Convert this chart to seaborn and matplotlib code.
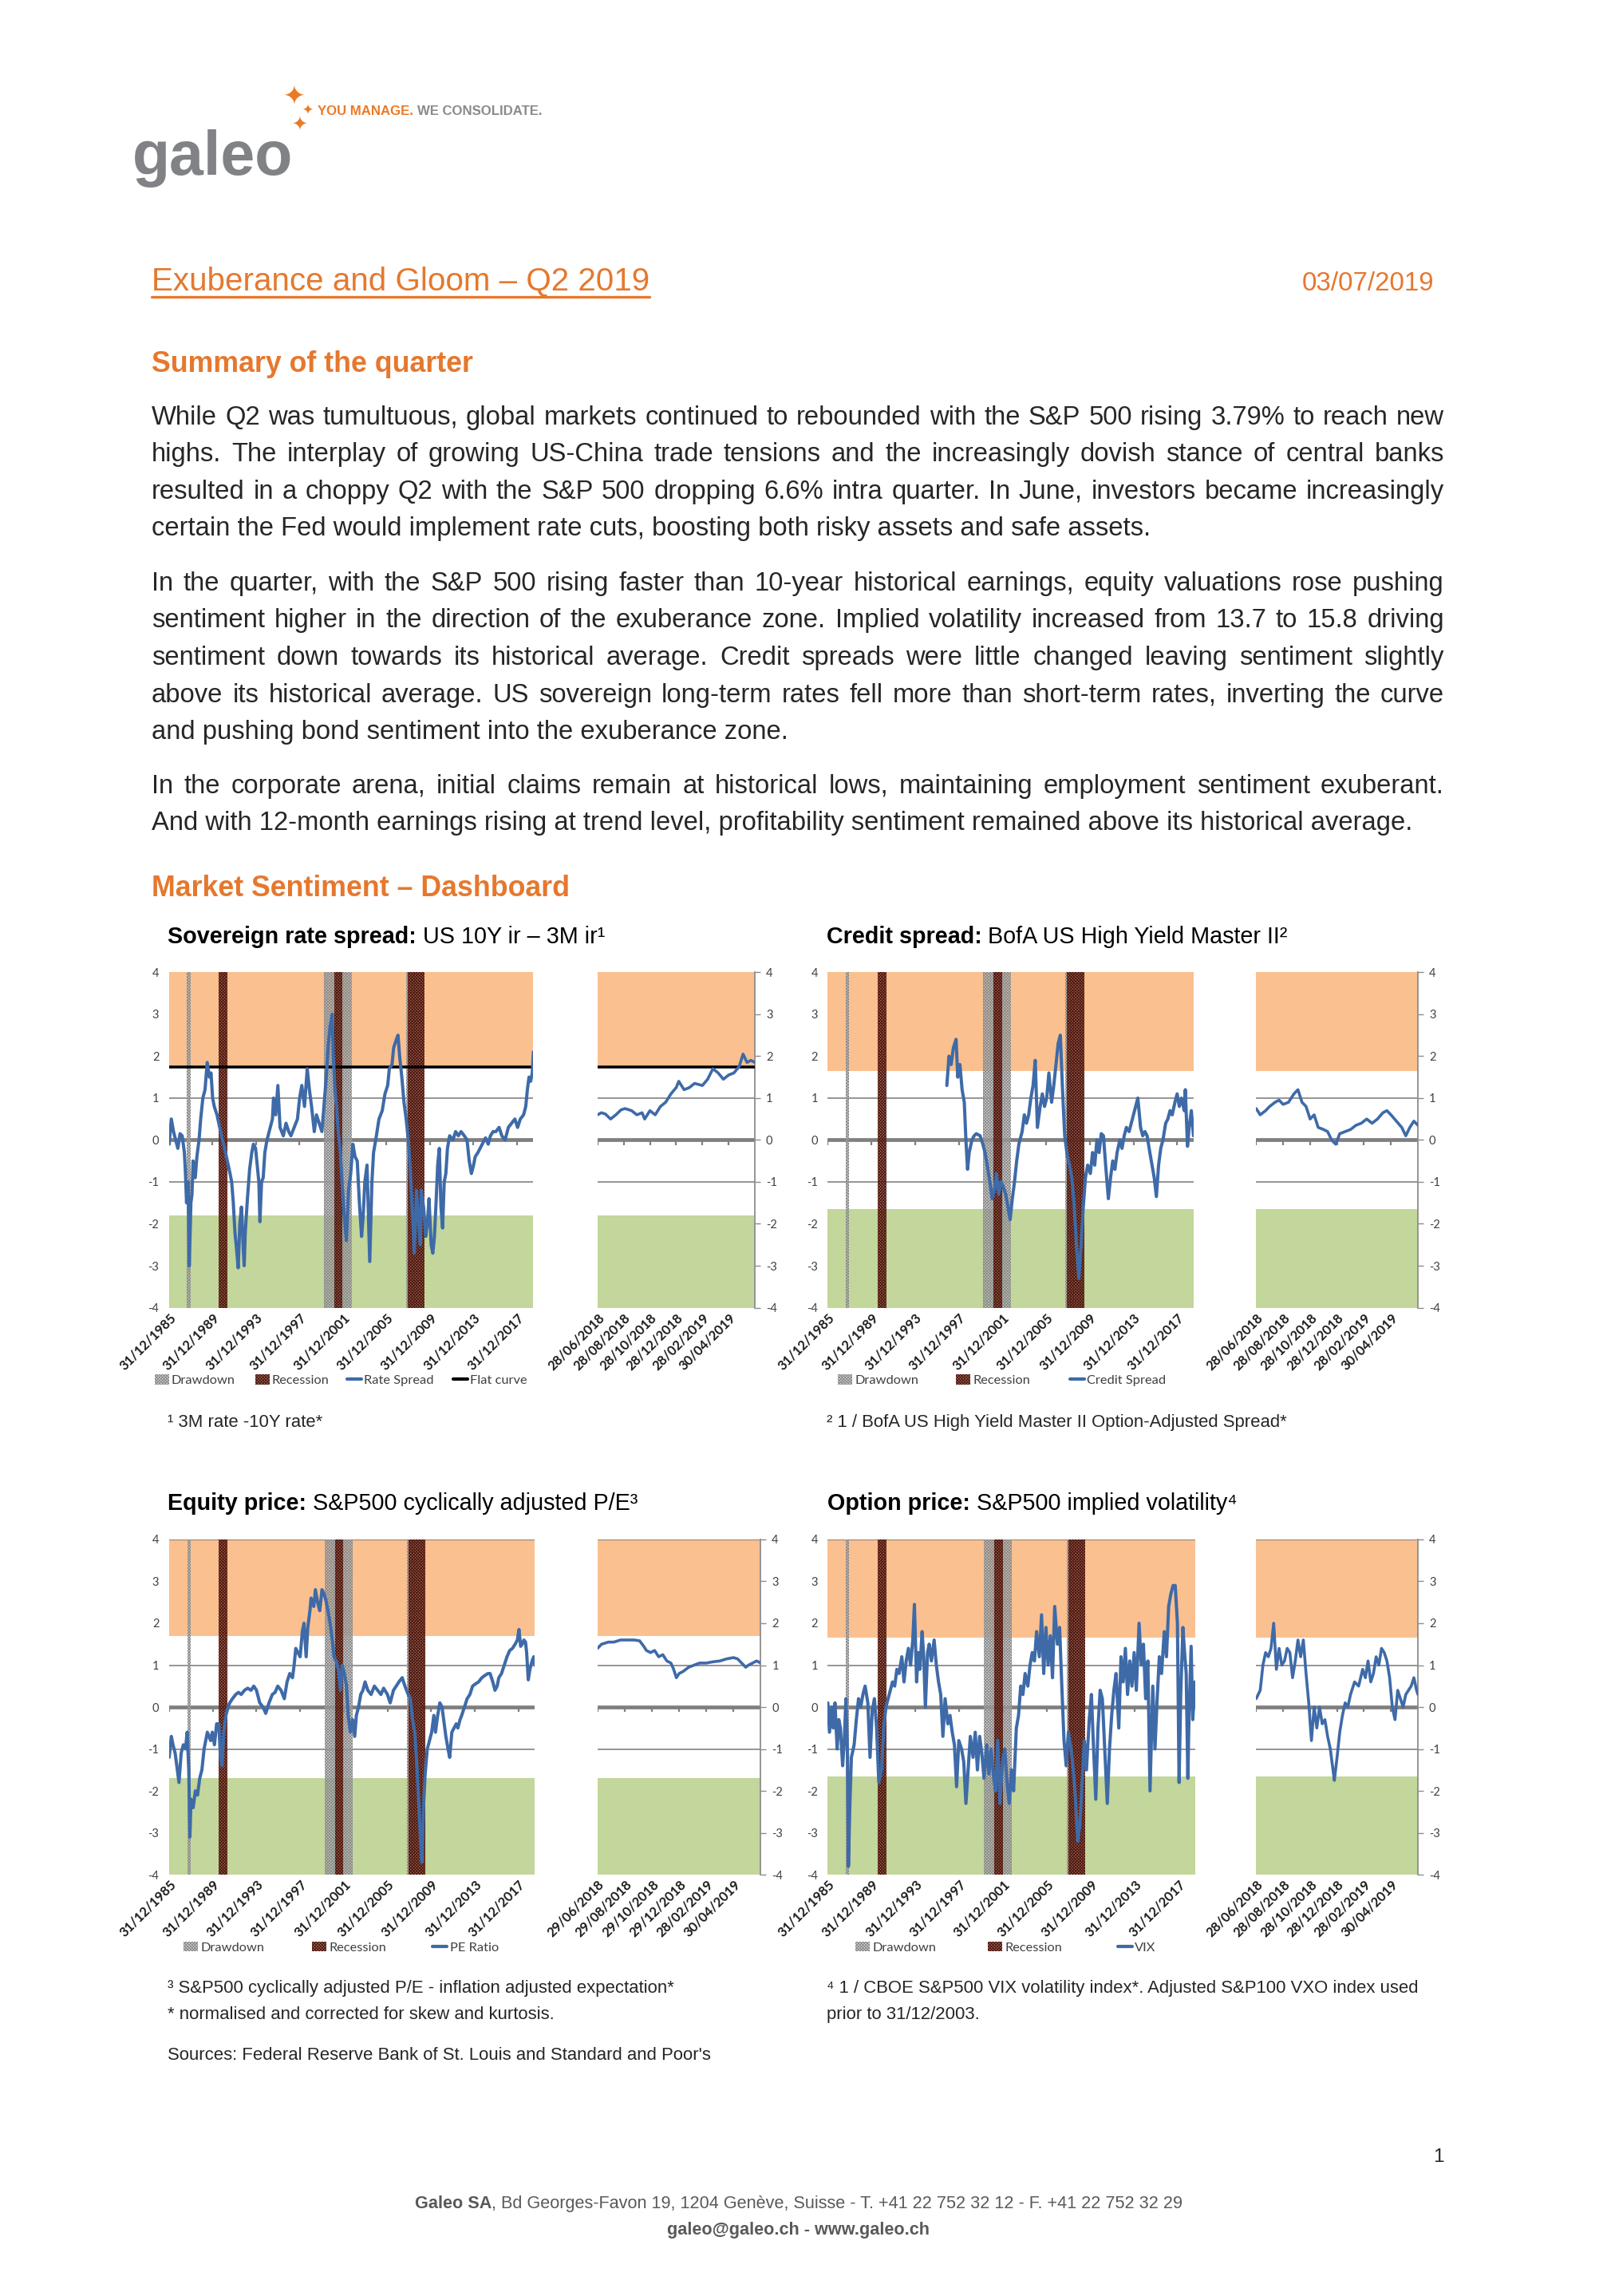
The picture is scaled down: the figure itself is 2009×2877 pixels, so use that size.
import matplotlib
matplotlib.use('Agg')
import matplotlib.pyplot as plt
from matplotlib import font_manager
from matplotlib.patches import Patch
from matplotlib.lines import Line2D
import seaborn as sns

# ---------------- data ----------------
SOV_YEARS = [1986.0, 1986.2, 1986.4, 1986.6, 1986.8, 1987.0, 1987.2, 1987.4, 1987.5, 1987.6,
             1987.75, 1987.85, 1988.0, 1988.1, 1988.2, 1988.4, 1988.55, 1988.75, 1988.9, 1989.1,
             1989.3, 1989.5, 1989.7, 1989.85, 1990.0, 1990.15, 1990.4, 1990.65, 1990.9, 1991.1,
             1991.35, 1991.6, 1991.75, 1991.9, 1992.05, 1992.2, 1992.35, 1992.5, 1992.65, 1992.8,
             1992.9, 1993.0, 1993.2, 1993.4, 1993.6, 1993.75, 1993.95, 1994.1, 1994.25, 1994.35,
             1994.5, 1994.65, 1994.8, 1995.0, 1995.2, 1995.5, 1995.6, 1995.8, 1996.0, 1996.2,
             1996.5, 1996.75, 1997.0, 1997.2, 1997.5, 1997.8, 1998.0, 1998.2, 1998.45, 1998.7,
             1998.9, 1999.1, 1999.35, 1999.55, 1999.8, 2000.05, 2000.3, 2000.45, 2000.65, 2000.8,
             2001.0, 2001.1, 2001.25, 2001.4, 2001.55, 2001.75, 2001.9, 2002.1, 2002.3, 2002.5,
             2002.7, 2002.9, 2003.1, 2003.3, 2003.5, 2003.7, 2003.85, 2004.0, 2004.2, 2004.35,
             2004.45, 2004.65, 2004.8, 2005.0, 2005.3, 2005.6, 2005.85, 2006.1, 2006.25, 2006.5,
             2006.65, 2006.9, 2007.05, 2007.2, 2007.4, 2007.6, 2007.8, 2008.0, 2008.2, 2008.35,
             2008.55, 2008.75, 2008.9, 2009.1, 2009.2, 2009.4, 2009.6, 2009.75, 2009.9, 2010.1,
             2010.25, 2010.4, 2010.55, 2010.7, 2010.85, 2011.0, 2011.15, 2011.3, 2011.45, 2011.6,
             2011.8, 2012.1, 2012.35, 2012.6, 2012.85, 2013.15, 2013.4, 2013.6, 2013.8, 2014.0,
             2014.15, 2014.4, 2014.6, 2014.8, 2015.1, 2015.35, 2015.55, 2015.8, 2016.05, 2016.35,
             2016.6, 2016.9, 2017.2, 2017.5, 2017.8, 2018.05, 2018.3, 2018.6, 2018.8, 2018.95,
             2019.1, 2019.25, 2019.4, 2019.5]
SOV_VALUES = [-0.1, 0.5, 0.2, 0.0, -0.2, 0.15, 0.1, -0.3, -0.8, -1.5,
              -1.0, -3.0, -1.5, -1.3, -0.5, -0.9, -0.4, 0.0, 0.5, 1.0,
              1.2, 1.85, 1.5, 1.6, 1.0, 0.8, 0.6, 0.3, 0.0, -0.2,
              -0.5, -0.8, -1.0, -1.5, -2.2, -2.6, -3.05, -2.0, -1.6, -2.5,
              -3.0, -2.2, -1.4, -0.7, -0.3, -0.1, -0.2, -0.6, -1.0, -1.95,
              -1.0, -0.9, -0.3, 0.0, 0.2, 0.5, 1.0, 0.6, 1.3, 0.3,
              0.1, 0.4, 0.2, 0.1, 0.3, 0.5, 1.0, 1.3, 0.8, 1.7,
              1.2, 0.8, 0.2, 0.6, 0.4, 0.2, 1.0, 1.5, 2.3, 2.7,
              3.0, 2.0, 1.2, 0.8, 0.2, -0.3, -1.0, -1.8, -2.4, -1.2,
              -0.8, -0.1, -0.4, -0.5, -1.5, -2.3, -1.8, -1.0, -0.6, -2.0,
              -2.9, -1.0, -0.3, 0.0, 0.5, 0.7, 1.1, 1.3, 1.7, 1.8,
              2.2, 2.4, 2.5, 2.0, 1.5, 0.9, 0.5, 0.0, -0.8, -1.6,
              -2.7, -1.2, -1.8, -2.5, -1.2, -1.6, -2.3, -2.0, -1.4, -2.5,
              -2.7, -2.3, -1.5, -0.6, -0.2, -1.6, -2.1, -1.0, -0.8, -0.2,
              0.1, 0.0, 0.2, 0.1, 0.2, 0.1, 0.0, -0.5, -0.8, -0.6,
              -0.4, -0.3, -0.2, -0.1, 0.05, -0.1, 0.1, 0.2, 0.2, 0.3,
              0.1, 0.0, 0.3, 0.4, 0.5, 0.3, 0.5, 0.6, 0.8, 1.2,
              1.5, 1.4, 1.6, 2.1]
SOV_MONTHS = [0, 0.3, 0.6, 1.0, 1.4, 1.8, 2.1, 2.6, 3.0, 3.4, 3.6, 4.0, 4.4, 4.8, 5.2, 5.6, 6.0,
              6.2, 6.6, 7.0, 7.4, 8.0, 8.4, 8.8, 9.2, 9.6, 10.0, 10.4, 10.8, 11.1, 11.4, 11.7, 12.0]
SOV_RECENT = [0.6, 0.65, 0.62, 0.5, 0.6, 0.72, 0.75, 0.7, 0.6, 0.65, 0.5, 0.7, 0.6, 0.8, 0.9, 1.1, 1.25,
              1.4, 1.2, 1.25, 1.35, 1.3, 1.45, 1.7, 1.6, 1.45, 1.55, 1.6, 1.75, 2.05, 1.85, 1.9, 1.85]
FLAT_CURVE = 1.75

CRD_YEARS = [1996.9, 1997.1, 1997.3, 1997.5, 1997.75, 1997.9, 1998.1, 1998.3, 1998.5, 1998.65,
             1998.8, 1998.95, 1999.2, 1999.4, 1999.6, 1999.95, 2000.2, 2000.4, 2000.6, 2000.85,
             2001.05, 2001.25, 2001.45, 2001.65, 2001.85, 2002.05, 2002.3, 2002.5, 2002.7, 2002.9,
             2003.1, 2003.3, 2003.5, 2003.8, 2004.0, 2004.2, 2004.4, 2004.6, 2004.8, 2005.0,
             2005.2, 2005.45, 2005.65, 2005.85, 2006.05, 2006.25, 2006.5, 2006.7, 2006.9, 2007.1,
             2007.3, 2007.5, 2007.7, 2007.95, 2008.15, 2008.35, 2008.55, 2008.8, 2009.0, 2009.2,
             2009.4, 2009.6, 2009.8, 2010.05, 2010.25, 2010.45, 2010.65, 2010.85, 2011.05, 2011.25,
             2011.45, 2011.7, 2011.9, 2012.1, 2012.3, 2012.5, 2012.75, 2012.95, 2013.15, 2013.35,
             2013.6, 2013.8, 2014.0, 2014.2, 2014.4, 2014.65, 2014.85, 2015.05, 2015.25, 2015.5,
             2015.7, 2015.9, 2016.1, 2016.3, 2016.5, 2016.7, 2016.95, 2017.15, 2017.35, 2017.55,
             2017.8, 2018.0, 2018.2, 2018.4, 2018.65, 2018.75, 2018.95, 2019.1, 2019.3, 2019.5]
CRD_VALUES = [1.3, 2.0, 1.8, 2.2, 2.4, 1.5, 1.8, 1.2, 0.9, 0.0,
              -0.7, -0.3, 0.0, 0.1, 0.15, 0.1, -0.1, -0.3, -0.6, -1.0,
              -1.4, -1.2, -0.8, -1.3, -1.0, -1.1, -1.3, -1.6, -1.9, -1.4,
              -1.0, -0.5, -0.1, 0.2, 0.6, 0.4, 0.6, 1.0, 1.3, 1.9,
              0.3, 0.8, 1.1, 0.8, 1.0, 1.6, 0.9, 1.3, 1.8, 2.3,
              2.5, 1.2, 0.1, -0.4, -0.6, -0.9, -1.5, -2.6, -3.3, -2.5,
              -1.6, -0.9, -0.6, -0.8, -0.3, -0.6, 0.0, -0.3, 0.15, 0.1,
              -0.6, -1.4, -0.9, -0.5, -0.7, -0.3, 0.0, -0.2, 0.1, 0.3,
              0.2, 0.4, 0.6, 0.8, 1.0, 0.3, 0.1, 0.2, 0.1, -0.3,
              -0.6, -0.9, -1.35, -0.6, -0.2, 0.0, 0.4, 0.5, 0.7, 0.6,
              0.9, 1.1, 0.8, 1.0, 0.7, 1.2, -0.15, 0.3, 0.7, 0.1]
CRD_MONTHS = [0, 0.3, 0.7, 1.0, 1.4, 1.7, 2.0, 2.4, 2.8, 3.1, 3.4, 3.7, 4.0, 4.3, 4.6, 5.0, 5.3, 5.6,
              5.9, 6.2, 6.6, 7.0, 7.4, 7.8, 8.2, 8.6, 9.0, 9.4, 9.7, 10.0, 10.4, 10.8, 11.1, 11.4, 11.7, 12.0]
CRD_RECENT = [0.75, 0.6, 0.7, 0.8, 0.9, 0.95, 0.85, 0.9, 1.1, 1.2, 0.9, 0.8, 0.5, 0.6, 0.3, 0.25, 0.2, 0.0,
              -0.1, 0.15, 0.2, 0.25, 0.35, 0.4, 0.5, 0.4, 0.5, 0.65, 0.7, 0.6, 0.45, 0.3, 0.1, 0.3, 0.45, 0.35]

PE_YEARS = [1986.0, 1986.2, 1986.35, 1986.55, 1986.75, 1986.9, 1987.1, 1987.3, 1987.5, 1987.65,
            1987.8, 1987.9, 1988.0, 1988.2, 1988.4, 1988.6, 1988.8, 1989.0, 1989.2, 1989.5,
            1989.8, 1989.95, 1990.15, 1990.35, 1990.55, 1990.7, 1990.85, 1991.0, 1991.2, 1991.4,
            1991.55, 1991.8, 1992.1, 1992.35, 1992.6, 1992.9, 1993.2, 1993.5, 1993.75, 1994.0,
            1994.3, 1994.6, 1994.85, 1995.15, 1995.45, 1995.7, 1995.95, 1996.25, 1996.55, 1996.8,
            1997.05, 1997.3, 1997.45, 1997.6, 1997.8, 1998.0, 1998.2, 1998.35, 1998.55, 1998.7,
            1998.9, 1999.0, 1999.25, 1999.4, 1999.6, 1999.8, 2000.0, 2000.2, 2000.4, 2000.55,
            2000.75, 2000.95, 2001.1, 2001.3, 2001.5, 2001.7, 2001.85, 2002.05, 2002.25, 2002.4,
            2002.6, 2002.8, 2003.0, 2003.15, 2003.35, 2003.55, 2003.75, 2003.95, 2004.2, 2004.5,
            2004.8, 2005.1, 2005.4, 2005.65, 2006.0, 2006.25, 2006.55, 2006.8, 2007.05, 2007.35,
            2007.6, 2007.9, 2008.1, 2008.3, 2008.5, 2008.65, 2008.85, 2009.0, 2009.15, 2009.3,
            2009.45, 2009.65, 2009.85, 2010.05, 2010.25, 2010.4, 2010.6, 2010.8, 2011.0, 2011.15,
            2011.35, 2011.55, 2011.7, 2011.9, 2012.1, 2012.3, 2012.45, 2012.65, 2012.8, 2013.05,
            2013.3, 2013.55, 2013.8, 2014.05, 2014.35, 2014.65, 2014.9, 2015.2, 2015.4, 2015.65,
            2015.85, 2016.05, 2016.2, 2016.45, 2016.7, 2016.95, 2017.2, 2017.45, 2017.7, 2017.9,
            2018.05, 2018.2, 2018.35, 2018.5, 2018.65, 2018.75, 2018.9, 2019.05, 2019.25, 2019.4,
            2019.5]
PE_VALUES = [-1.2, -0.7, -0.9, -1.1, -1.5, -1.8, -1.1, -0.9, -1.0, -0.6,
             -1.5, -3.1, -2.2, -2.4, -2.0, -2.1, -1.7, -1.5, -1.0, -0.6,
             -0.8, -0.6, -0.9, -0.4, -0.4, -1.2, -1.4, -0.6, -0.2, 0.0,
             0.1, 0.2, 0.3, 0.35, 0.3, 0.4, 0.45, 0.4, 0.5, 0.4,
             0.1, 0.0, -0.15, 0.1, 0.3, 0.35, 0.5, 0.4, 0.2, 0.6,
             0.8, 0.7, 1.0, 1.4, 1.3, 1.2, 1.8, 2.0, 1.2, 1.9,
             2.3, 2.6, 2.4, 2.8, 2.5, 2.3, 2.8, 2.7, 2.5, 2.3,
             2.0, 1.6, 1.2, 1.1, 0.9, 0.4, 1.0, 0.8, 0.5, -0.2,
             -0.6, -0.3, -0.7, -0.2, 0.0, 0.3, 0.4, 0.6, 0.4, 0.3,
             0.5, 0.4, 0.3, 0.45, 0.3, 0.1, 0.4, 0.5, 0.6, 0.7,
             0.5, 0.3, 0.2, -0.3, -0.6, -1.2, -2.2, -3.0, -3.7, -2.4,
             -1.6, -1.0, -0.8, -0.6, -0.2, -0.6, -0.2, 0.1, 0.0, -0.3,
             -0.7, -1.0, -1.2, -0.6, -0.5, -0.4, -0.5, -0.3, -0.2, 0.0,
             0.2, 0.3, 0.5, 0.55, 0.6, 0.7, 0.75, 0.8, 0.8, 0.6,
             0.4, 0.5, 0.7, 0.8, 1.0, 1.2, 1.35, 1.4, 1.5, 1.6,
             1.85, 1.45, 1.5, 1.6, 1.55, 1.3, 0.65, 0.9, 1.1, 1.2,
             1.0]
PE_MONTHS = [0, 0.3, 0.8, 1.2, 1.7, 2.2, 2.7, 3.1, 3.4, 3.6, 3.9, 4.2, 4.5, 4.8, 5.1, 5.4, 5.6, 5.8,
             6.0, 6.3, 6.7, 7.1, 7.5, 8.0, 8.5, 9.0, 9.5, 10.0, 10.3, 10.6, 10.9, 11.1, 11.4, 11.7, 12.0]
PE_RECENT = [1.4, 1.5, 1.55, 1.55, 1.6, 1.6, 1.6, 1.58, 1.45, 1.35, 1.3, 1.35, 1.2, 1.25, 1.1, 1.05, 0.9, 0.7,
             0.8, 0.85, 0.95, 1.0, 1.05, 1.05, 1.08, 1.1, 1.15, 1.18, 1.15, 1.05, 0.95, 1.0, 1.05, 1.1, 1.05]

VIX_YEARS = [1986.0, 1986.15, 1986.35, 1986.5, 1986.65, 1986.85, 1987.0, 1987.15, 1987.35, 1987.5,
             1987.65, 1987.8, 1987.88, 1988.0, 1988.15, 1988.4, 1988.6, 1988.8, 1989.0, 1989.2,
             1989.4, 1989.65, 1989.85, 1990.05, 1990.25, 1990.45, 1990.65, 1990.9, 1991.1, 1991.3,
             1991.5, 1991.7, 1991.9, 1992.1, 1992.3, 1992.5, 1992.75, 1992.95, 1993.15, 1993.35,
             1993.55, 1993.75, 1993.9, 1994.1, 1994.25, 1994.4, 1994.6, 1994.75, 1994.9, 1995.1,
             1995.25, 1995.45, 1995.7, 1995.9, 1996.1, 1996.3, 1996.5, 1996.7, 1996.95, 1997.15,
             1997.35, 1997.55, 1997.75, 1997.95, 1998.2, 1998.4, 1998.6, 1998.8, 1999.0, 1999.25,
             1999.45, 1999.65, 1999.85, 2000.05, 2000.25, 2000.5, 2000.7, 2000.9, 2001.1, 2001.3,
             2001.5, 2001.7, 2001.95, 2002.15, 2002.35, 2002.55, 2002.75, 2002.95, 2003.2, 2003.4,
             2003.6, 2003.8, 2004.0, 2004.25, 2004.45, 2004.65, 2004.85, 2005.05, 2005.3, 2005.5,
             2005.7, 2005.9, 2006.1, 2006.3, 2006.5, 2006.7, 2006.95, 2007.15, 2007.35, 2007.55,
             2007.75, 2007.95, 2008.2, 2008.4, 2008.6, 2008.8, 2009.0, 2009.2, 2009.4, 2009.6,
             2009.85, 2010.05, 2010.25, 2010.45, 2010.65, 2010.85, 2011.05, 2011.25, 2011.5, 2011.7,
             2011.9, 2012.1, 2012.3, 2012.55, 2012.75, 2012.95, 2013.15, 2013.35, 2013.55, 2013.75,
             2013.95, 2014.15, 2014.4, 2014.6, 2014.8, 2015.0, 2015.2, 2015.4, 2015.65, 2015.85,
             2016.05, 2016.25, 2016.45, 2016.7, 2016.9, 2017.1, 2017.3, 2017.5, 2017.7, 2017.9,
             2018.05, 2018.2, 2018.4, 2018.55, 2018.7, 2018.85, 2018.95, 2019.15, 2019.3, 2019.5]
VIX_VALUES = [0.1, -0.6, 0.0, -0.5, 0.1, -1.0, -0.3, -0.5, -1.4, -0.8,
              0.2, -1.2, -3.8, -2.4, -1.2, -0.9, -0.3, 0.2, 0.0, 0.3,
              0.5, 0.1, -1.2, -0.1, 0.2, -0.5, -1.8, -1.5, -0.5, 0.0,
              0.2, 0.4, 0.6, 0.5, 0.9, 0.8, 1.2, 0.6, 1.1, 1.4,
              1.0, 1.6, 2.45, 0.6, 1.3, 0.9, 1.8, 1.2, 0.0, 1.3,
              1.5, 1.1, 1.6, 1.0, 0.6, 0.3, -0.7, 0.2, -0.4, -0.2,
              -0.6, -0.9, -1.9, -0.8, -1.0, -1.3, -2.3, -1.5, -0.7, -1.2,
              -0.6, -1.5, -0.7, -1.1, -1.7, -0.9, -1.6, -1.0, -1.6, -2.0,
              -0.8, -2.3, -1.3, -1.0, -1.8, -2.3, -1.5, -2.0, -0.5, -0.2,
              0.5, 0.3, 0.8, 0.5, 1.0, 1.3, 1.1, 1.8, 1.2, 2.2,
              0.8, 1.9, 1.0, 1.7, 0.7, 2.4, 1.5, 1.9, 0.5, -0.8,
              -1.4, -0.6, -1.0, -1.5, -2.2, -3.2, -2.8, -1.8, -0.8, -1.5,
              -0.3, 0.3, -1.0, -2.2, -0.5, 0.4, 0.2, -0.9, -2.3, -1.0,
              -0.2, 0.4, 0.8, -0.5, 1.2, 0.6, 1.4, 0.3, 1.1, 0.5,
              1.3, 0.4, 2.0, 1.0, 1.5, 0.2, 1.1, -2.0, 0.5, -1.0,
              0.2, 1.2, 0.8, 1.8, 1.2, 2.4, 2.7, 2.9, 2.9, 2.0,
              -1.8, 0.3, 1.9, 1.3, 0.8, -1.7, -0.3, 1.45, -0.3, 0.6]
VIX_MONTHS = [0, 0.3, 0.5, 0.7, 0.9, 1.1, 1.3, 1.5, 1.7, 1.9, 2.1, 2.3, 2.5, 2.7, 2.9, 3.1, 3.3, 3.5, 3.7, 3.9,
              4.1, 4.3, 4.5, 4.7, 4.9, 5.1, 5.3, 5.5, 5.7, 5.8, 6.0, 6.2, 6.4, 6.6, 6.8, 7.0, 7.3, 7.6, 7.9, 8.1,
              8.3, 8.5, 8.7, 8.9, 9.1, 9.3, 9.5, 9.7, 9.9, 10.1, 10.3, 10.5, 10.7, 10.9, 11.1, 11.3, 11.5, 11.7,
              11.9, 12.0]
VIX_RECENT = [0.2, 0.4, 1.0, 1.3, 1.2, 1.4, 2.0, 0.9, 1.4, 1.0, 1.1, 1.4, 1.3, 0.7, 1.1, 1.6, 1.2, 1.6, 0.8, 0.1,
              -0.8, 0.0, -0.5, 0.0, -0.4, -0.3, -0.7, -1.0, -1.5, -1.75, -1.2, -0.6, -0.2, 0.1, 0.0, 0.3, 0.6, 0.5,
              0.9, 0.7, 1.1, 0.6, 0.8, 1.2, 1.0, 1.4, 1.3, 1.1, 0.7, 0.0, -0.3, 0.4, 0.2, 0.0, 0.3, 0.4, 0.5, 0.7,
              0.4, 0.3]

DRAWDOWNS = [(1987.65, 1987.95), (2000.23, 2002.8), (2007.77, 2009.2)]
RECESSIONS = [(1990.55, 1991.35), (2001.2, 2001.95), (2007.92, 2009.5)]

MAIN_START, MAIN_END = 1985.99, 2019.5
TICK_YEARS = [1985, 1989, 1993, 1997, 2001, 2005, 2009, 2013, 2017]
Y_TICKS = [-4, -3, -2, -1, 0, 1, 2, 3, 4]
RECENT_TICKS = [0, 2, 4, 6, 8, 10]
RECENT_LABELS_28 = ['28/06/2018', '28/08/2018', '28/10/2018', '28/12/2018', '28/02/2019', '30/04/2019']
RECENT_LABELS_29 = ['29/06/2018', '29/08/2018', '29/10/2018', '29/12/2018', '28/02/2019', '30/04/2019']

PARA1 = ["While Q2 was tumultuous, global markets continued to rebounded with the S&P 500 rising 3.79% to reach new",
         "highs. The interplay of growing US-China trade tensions and the increasingly dovish stance of central banks",
         "resulted in a choppy Q2 with the S&P 500 dropping 6.6% intra quarter. In June, investors became increasingly",
         "certain the Fed would implement rate cuts, boosting both risky assets and safe assets."]
PARA2 = ["In the quarter, with the S&P 500 rising faster than 10-year historical earnings, equity valuations rose pushing",
         "sentiment higher in the direction of the exuberance zone. Implied volatility increased from 13.7 to 15.8 driving",
         "sentiment down towards its historical average. Credit spreads were little changed leaving sentiment slightly",
         "above its historical average. US sovereign long-term rates fell more than short-term rates, inverting the curve",
         "and pushing bond sentiment into the exuberance zone."]
PARA3 = ["In the corporate arena, initial claims remain at historical lows, maintaining employment sentiment exuberant.",
         "And with 12-month earnings rising at trend level, profitability sentiment remained above its historical average."]

# ---------------- fonts / style ----------------
sns.set_style('white')


def font_ok(name):
    try:
        font_manager.findfont(font_manager.FontProperties(family=name), fallback_to_default=False)
        return True
    except Exception:
        return False


NARROW = 'Liberation Sans Narrow' if font_ok('Liberation Sans Narrow') else 'Liberation Sans'
CHART_FAMILY = 'Lato' if font_ok('Lato') else 'DejaVu Sans'
TEXT_FONT = [NARROW, 'DejaVu Sans']
plt.rcParams['font.family'] = TEXT_FONT
plt.rcParams['hatch.linewidth'] = 0.8

ORANGE = '#E5782E'
BAND_HI = '#FAC08F'
BAND_LO = '#C3D69B'
BLUE = '#3E6AA8'
GRID = '#8c8c8c'
DD_FACE, DD_HATCH = (0.80, 0.80, 0.80, 0.55), '#8a8a8a'
RC_FACE, RC_HATCH = (0.62, 0.27, 0.20, 0.75), '#4a1a12'
HATCH = 'x' * 9

W, H = 1100.0, 1575.0
fig = plt.figure(figsize=(20.09, 28.77), dpi=100)
R = fig.canvas.get_renderer()
FIG_W = fig.bbox.width


def fx(x):
    return x / W


def fy(y):
    return 1 - y / H


def box(x0, y0, x1, y1):
    return [x0 / W, 1 - y1 / H, (x1 - x0) / W, (y1 - y0) / H]


def width_of(s, size, weight='normal'):
    t = fig.text(0, 0, s, fontsize=size, fontweight=weight)
    w = t.get_window_extent(renderer=R).width / FIG_W * W
    t.remove()
    return w


def fit(s, target, weight='normal'):
    return 20 * target / width_of(s, 20, weight)


def runs(x, y, parts, size, color='black', ha='left'):
    objs = [fig.text(0, fy(y), s, fontsize=size, fontweight=wt, color=color, va='baseline') for s, wt in parts]
    widths = [o.get_window_extent(renderer=R).width / FIG_W for o in objs]
    pos = fx(x) - (sum(widths) / 2 if ha == 'center' else 0)
    for o, w in zip(objs, widths):
        o.set_x(pos)
        pos += w
    return objs


# ---------------- header ----------------
runs(91, 120, [('galeo', 'bold')], fit('galeo', 110, 'bold'), color='#808285')
for sx, sy, ss in [(202, 67, 24), (211, 76, 12), (205, 85, 17)]:
    fig.text(fx(sx), fy(sy), '\u2726', fontsize=ss, color='#EC7A24', family='DejaVu Sans',
             ha='center', va='center')
tag = fit('YOU MANAGE. WE CONSOLIDATE.', 154, 'bold')
runs(218, 79, [('YOU MANAGE.', 'bold')], tag, color='#EC7A24')
t_you = width_of('YOU MANAGE. ', tag, 'bold')
runs(218 + t_you, 79, [('WE CONSOLIDATE.', 'bold')], tag, color='#8a8a8a')

title = fig.text(fx(104), fy(199), 'Exuberance and Gloom \u2013 Q2 2019',
                 fontsize=fit('Exuberance and Gloom \u2013 Q2 2019', 341), color=ORANGE, va='baseline')
bb = title.get_window_extent(renderer=R)
fig.add_artist(Line2D([bb.x0 / FIG_W, bb.x1 / FIG_W], [fy(203.5), fy(203.5)], transform=fig.transFigure,
                      color=ORANGE, lw=2.4))
fig.text(fx(984), fy(199), '03/07/2019', fontsize=fit('03/07/2019', 91), color=ORANGE, ha='right', va='baseline')

head = fit('Summary of the quarter', 221, 'bold')
fig.text(fx(104), fy(255), 'Summary of the quarter', fontsize=head, fontweight='bold', color=ORANGE, va='baseline')
fig.text(fx(104), fy(615), 'Market Sentiment \u2013 Dashboard', fontsize=head, fontweight='bold', color=ORANGE,
         va='baseline')

# ---------------- justified body ----------------
TEXT_L, TEXT_R = 104, 991
justified_lines = PARA1[:-1] + PARA2[:-1] + PARA3[:-1]
body = min(26.7, min(26.7 * 0.99 * (TEXT_R - TEXT_L) / width_of(s, 26.7) for s in justified_lines))


def body_para(lines, y0):
    for i, line in enumerate(lines):
        y = y0 + i * 25.5
        if i == len(lines) - 1:
            fig.text(fx(TEXT_L), fy(y), line, fontsize=body, va='baseline')
            continue
        words = line.split()
        objs = [fig.text(0, fy(y), w, fontsize=body, va='baseline') for w in words]
        widths = [o.get_window_extent(renderer=R).width / FIG_W for o in objs]
        gap = (fx(TEXT_R) - fx(TEXT_L) - sum(widths)) / (len(words) - 1)
        pos = fx(TEXT_L)
        for o, w in zip(objs, widths):
            o.set_x(pos)
            pos += w + gap


body_para(PARA1, 291)
body_para(PARA2, 405)
body_para(PARA3, 544)


# ---------------- charts ----------------
def style_axes(a, lo, hi, top_line):
    a.set_ylim(-4, 4)
    a.axhspan(hi, 4, color=BAND_HI, lw=0, zorder=0)
    a.axhspan(-4, lo, color=BAND_LO, lw=0, zorder=0)
    for g in (-1, 1):
        a.axhline(g, color=GRID, lw=1.3, zorder=1)
    a.axhline(0, color='#7f7f7f', lw=3.4, zorder=1.2)
    if top_line:
        a.axhline(4, color=GRID, lw=1.6, zorder=1)
    for s in a.spines.values():
        s.set_visible(False)
    a.set_facecolor('white')
    a.set_yticks(Y_TICKS)
    a.set_yticklabels([str(v) for v in Y_TICKS])
    a.tick_params(axis='y', labelsize=10.5, labelcolor='#404040', labelfontfamily=CHART_FAMILY)
    a.tick_params(axis='x', length=0, pad=3, labelsize=12, labelcolor='#1a1a1a', labelfontfamily=CHART_FAMILY)


def panel(main_box, small_box, years, values, months, recent, lo, hi, recent_labels,
          flat=None, top_line=False):
    ax = fig.add_axes(main_box)
    ax2 = fig.add_axes(small_box)
    for a in (ax, ax2):
        style_axes(a, lo, hi, top_line)

    ax.set_xlim(MAIN_START, MAIN_END)
    for start, end in DRAWDOWNS:
        ax.axvspan(start, end, facecolor=DD_FACE, edgecolor=DD_HATCH, hatch=HATCH, lw=0, zorder=2)
    for start, end in RECESSIONS:
        ax.axvspan(start, end, facecolor=RC_FACE, edgecolor=RC_HATCH, hatch=HATCH, lw=0, zorder=2.1)
    ticks = [y + 0.997 for y in TICK_YEARS]
    ax.vlines(ticks, -0.12, 0, color='#7f7f7f', lw=1.6, zorder=1.2)
    ax.set_xticks(ticks)
    ax.set_xticklabels(['31/12/%d' % y for y in TICK_YEARS], rotation=45, ha='right',
                       rotation_mode='anchor', fontweight='bold')
    ax.tick_params(axis='y', length=0, pad=9)

    ax2.set_xlim(0, 12)
    ax2.vlines(RECENT_TICKS, -0.12, 0, color='#7f7f7f', lw=1.6, zorder=1.2)
    ax2.set_xticks(RECENT_TICKS)
    ax2.set_xticklabels(recent_labels, rotation=45, ha='right', rotation_mode='anchor', fontweight='bold')
    ax2.yaxis.tick_right()
    ax2.spines['right'].set_visible(True)
    ax2.spines['right'].set_color(GRID)
    ax2.spines['right'].set_linewidth(1.3)
    ax2.tick_params(axis='y', length=5, width=1, color=GRID, pad=5)

    if flat is not None:
        for a in (ax, ax2):
            a.axhline(flat, color='black', lw=2.6, zorder=3)

    sns.lineplot(x=years, y=values, ax=ax, color=BLUE, lw=2.9, zorder=4)
    sns.lineplot(x=months, y=recent, ax=ax2, color=BLUE, lw=2.6, zorder=4)
    for a in (ax, ax2):
        a.set_xlabel('')
        a.set_ylabel('')


dd_handle = Patch(facecolor=DD_FACE, edgecolor=DD_HATCH, hatch=HATCH, lw=0)
rc_handle = Patch(facecolor=RC_FACE, edgecolor=RC_HATCH, hatch=HATCH, lw=0)


def legend_item(handle, label, x, y):
    fig.legend(handles=[handle], labels=[label], loc='center left', bbox_to_anchor=(fx(x), fy(y)),
               frameon=False, prop={'family': CHART_FAMILY, 'size': 11.8}, labelcolor='#404040',
               handlelength=1.1, handleheight=0.8, handletextpad=0.2, borderpad=0, borderaxespad=0)


panel(box(116, 667, 366, 897), box(410, 667, 518, 897), SOV_YEARS, SOV_VALUES, SOV_MONTHS, SOV_RECENT,
      -1.8, 1.78, RECENT_LABELS_28, flat=FLAT_CURVE)
panel(box(568, 667, 819, 897), box(862, 667, 973, 897), CRD_YEARS, CRD_VALUES, CRD_MONTHS, CRD_RECENT,
      -1.65, 1.65, RECENT_LABELS_28)
panel(box(116, 1056, 367, 1286), box(410, 1056, 522, 1286), PE_YEARS, PE_VALUES, PE_MONTHS, PE_RECENT,
      -1.7, 1.7, RECENT_LABELS_29, top_line=True)
panel(box(568, 1056, 820, 1286), box(862, 1056, 973, 1286), VIX_YEARS, VIX_VALUES, VIX_MONTHS, VIX_RECENT,
      -1.65, 1.65, RECENT_LABELS_28, top_line=True)

line_h = Line2D([0], [0], color=BLUE, lw=3)
flat_h = Line2D([0], [0], color='black', lw=3)
for h, lab, x in [(dd_handle, 'Drawdown', 106), (rc_handle, 'Recession', 175),
                  (line_h, 'Rate Spread', 238), (flat_h, 'Flat curve', 311)]:
    legend_item(h, lab, x, 947)
for h, lab, x in [(dd_handle, 'Drawdown', 575), (rc_handle, 'Recession', 656), (line_h, 'Credit Spread', 734)]:
    legend_item(h, lab, x, 947)
for h, lab, x in [(dd_handle, 'Drawdown', 126), (rc_handle, 'Recession', 214), (line_h, 'PE Ratio', 297)]:
    legend_item(h, lab, x, 1336)
for h, lab, x in [(dd_handle, 'Drawdown', 587), (rc_handle, 'Recession', 678), (line_h, 'VIX', 767)]:
    legend_item(h, lab, x, 1336)

# chart titles
ct = fit('Sovereign rate spread: US 10Y ir \u2013 3M ir\u00b9', 288)
runs(115, 647, [('Sovereign rate spread:', 'bold'), (' US 10Y ir \u2013 3M ir\u00b9', 'normal')], ct)
runs(567, 647, [('Credit spread:', 'bold'), (' BofA US High Yield Master II\u00b2', 'normal')], ct)
runs(115, 1036, [('Equity price:', 'bold'), (' S&P500 cyclically adjusted P/E\u00b3', 'normal')], ct)
runs(568, 1036, [('Option price:', 'bold'), (' S&P500 implied volatility\u2074', 'normal')], ct)

# footnotes
fn = fit("Sources: Federal Reserve Bank of St. Louis and Standard and Poor's", 372)
fig.text(fx(115), fy(979), '\u00b9 3M rate -10Y rate*', fontsize=fn, va='baseline')
fig.text(fx(567), fy(979), '\u00b2 1 / BofA US High Yield Master II Option-Adjusted Spread*', fontsize=fn,
         va='baseline')
fig.text(fx(115), fy(1367), '\u00b3 S&P500 cyclically adjusted P/E - inflation adjusted expectation*', fontsize=fn,
         va='baseline')
fig.text(fx(115), fy(1385), '* normalised and corrected for skew and kurtosis.', fontsize=fn, va='baseline')
fig.text(fx(567), fy(1367), '\u2074 1 / CBOE S&P500 VIX volatility index*. Adjusted S&P100 VXO index used',
         fontsize=fn, va='baseline')
fig.text(fx(567), fy(1385), 'prior to 31/12/2003.', fontsize=fn, va='baseline')
fig.text(fx(115), fy(1413), "Sources: Federal Reserve Bank of St. Louis and Standard and Poor's", fontsize=fn,
         va='baseline')

# page footer
fig.text(fx(987), fy(1483), '1', fontsize=fn * 1.1, ha='center', va='baseline')
foot = fn * 0.98
runs(548, 1515, [('Galeo SA', 'bold'),
                 (', Bd Georges-Favon 19, 1204 Gen\u00e8ve, Suisse - T. +41 22 752 32 12 - F. +41 22 752 32 29',
                  'normal')], foot, color='#595959', ha='center')
runs(548, 1533, [('galeo@galeo.ch - www.galeo.ch', 'bold')], foot, color='#595959', ha='center')

fig.savefig('out.png', dpi=100)
